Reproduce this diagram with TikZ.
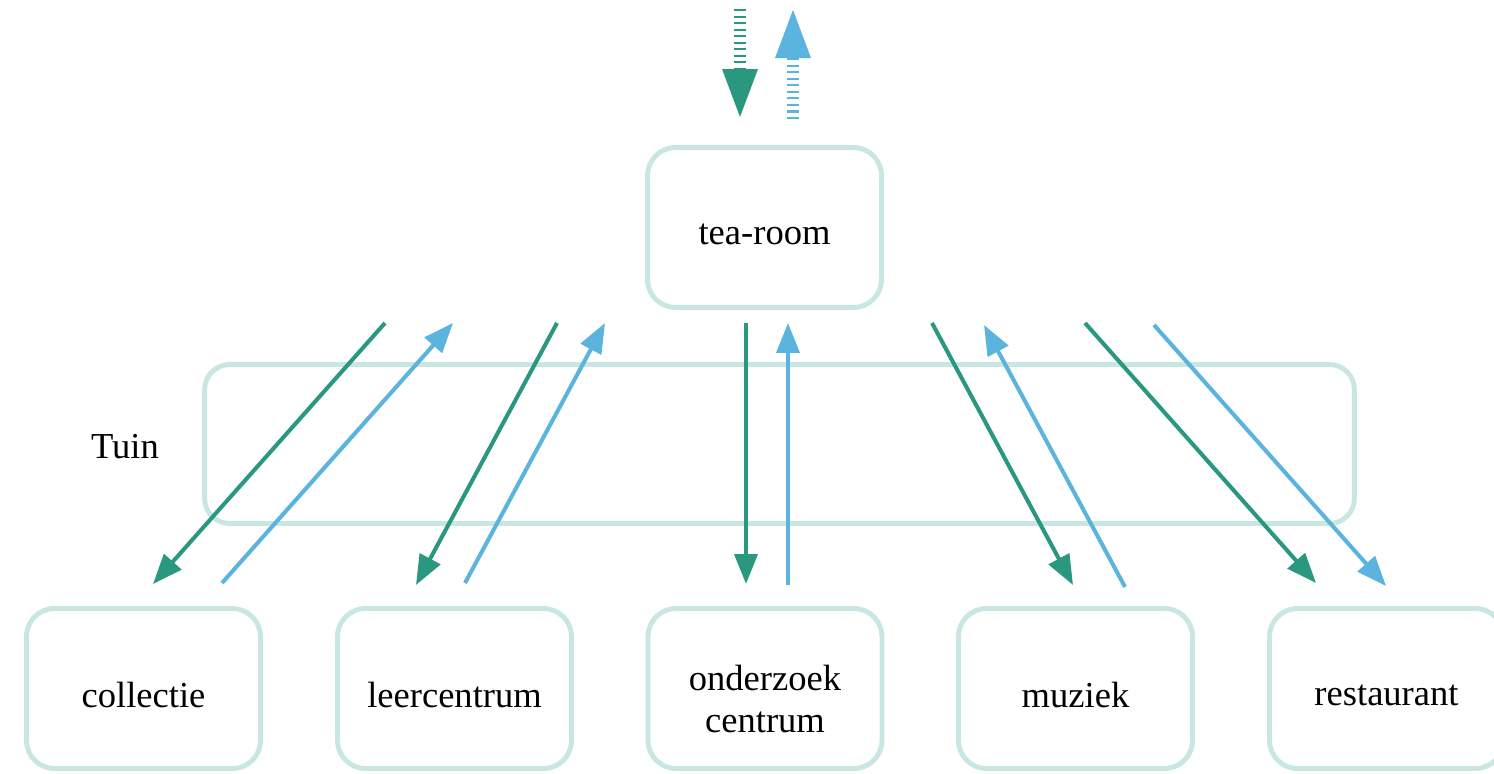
\documentclass[tikz,border=0pt]{standalone}
\usepackage{fontspec}
\setmainfont{Liberation Serif}
\usetikzlibrary{arrows.meta}
\definecolor{gr}{HTML}{2A9880}
\definecolor{bl}{HTML}{5BB4DE}
\definecolor{bx}{HTML}{C8E7E3}
\begin{document}
\begin{tikzpicture}[x=0.02cm,y=-0.02cm,
  room/.style={draw=bx,line width=2.8pt,rounded corners=0.56cm,minimum width=4.68cm,minimum height=3.2cm,inner sep=0pt,
    label={[font=\fontsize{20.8}{24}\selectfont,align=center,yshift=-0.13cm]center:#1}},
  garr/.style={draw=gr,line width=2.3pt,-{Triangle[length=17pt,width=13pt]}},
  barr/.style={draw=bl,line width=2.3pt,-{Triangle[length=17pt,width=13pt]}},
  gdash/.style={draw=gr,line width=6.8pt,dash pattern=on 1.4pt off 2.3pt},
  bdash/.style={draw=bl,line width=6.8pt,dash pattern=on 1.4pt off 2.3pt}]
\useasboundingbox (0,0) rectangle (1494,774);
\fill[white] (0,0) rectangle (1494,774);
% boxes
\node[room=tea-room] (tea) at (764.5,227.5) {};
\node[draw=bx,line width=2.8pt,minimum width=23cm,minimum height=3.18cm,rounded corners=0.5cm] (tuin) at (779.5,444) {};
\node[font=\fontsize{20.8}{24}\selectfont] (tuinlbl) at (125,447) {Tuin};
\node[room=collectie] (col) at (143.5,688.5) {};
\node[room=leercentrum] (leer) at (454.5,688.5) {};
\node[room={\\[-0.5ex]onderzoek\\centrum}] (ond) at (765,688.5) {};
\node[room=muziek] (muz) at (1075.5,688.5) {};
\node[room=restaurant] (rest) at (1386.5,688.5) {};
% endpoints
\coordinate (g1a) at (385,323); \coordinate (g1b) at (153,584);
\coordinate (b1a) at (222,583); \coordinate (b1b) at (453,323);
\coordinate (g2a) at (557,323); \coordinate (g2b) at (416,585);
\coordinate (b2a) at (465,583); \coordinate (b2b) at (605,323);
\coordinate (g3a) at (746,323); \coordinate (g3b) at (746,584);
\coordinate (b3a) at (788,585); \coordinate (b3b) at (788,323);
\coordinate (g4a) at (932,323); \coordinate (g4b) at (1073,585);
\coordinate (b4a) at (1125,587); \coordinate (b4b) at (984,325);
\coordinate (g5a) at (1085,323); \coordinate (g5b) at (1316,583);
\coordinate (b5a) at (1154,325); \coordinate (b5b) at (1386,586);
\foreach \i in {1,...,5}{
  \draw[garr] (g\i a) -- (g\i b);
  \draw[barr] (b\i a) -- (b\i b);
}
% top in/out
\coordinate (tg1) at (740,9); \coordinate (tg2) at (740,69); \coordinate (tg3) at (740,117);
\coordinate (tb1) at (793,119); \coordinate (tb2) at (793,58); \coordinate (tb3) at (793,10);
\draw[gdash] (tg1) -- (tg2);
\draw[draw=none,fill=gr] (tg3) -- ++(-18,-48) -- ++(36,0) -- cycle;
\draw[bdash] (tb1) -- (tb2);
\draw[draw=none,fill=bl] (tb3) -- ++(-18,48) -- ++(36,0) -- cycle;
\end{tikzpicture}
\end{document}
